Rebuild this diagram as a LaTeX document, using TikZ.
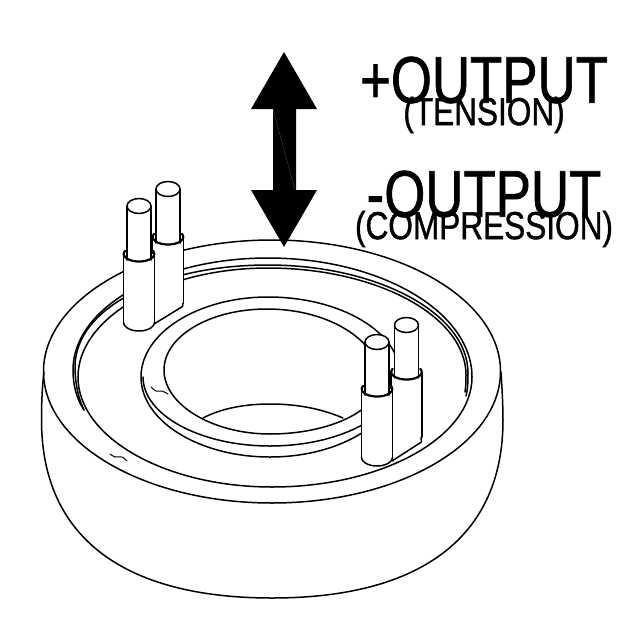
\documentclass[tikz,border=0pt]{standalone}
\usepackage{graphicx}
\usepackage{fontspec}
\setmainfont{Liberation Sans}
\newfontfamily\heavy[FakeBold=1.2]{Liberation Sans}
\tikzset{
  ln/.style={draw=black,line width=1.5pt,line cap=round,line join=round},
  thk/.style={draw=black,line width=2.2pt,line cap=round},
  thin ln/.style={ln,line width=1pt},
  lab/.style={inner sep=0pt,anchor=center,text=black},
}
% quarter-ellipse segments: start vertical, end horizontal / start horizontal, end vertical
\newcommand{\vh}[4]{.. controls (#1,{#2+.55*(#4-#2)}) and ({#3-.55*(#3-#1)},#4) .. (#3,#4)}
\newcommand{\hv}[4]{.. controls ({#1+.55*(#3-#1)},#2) and (#3,{#4-.55*(#4-#2)}) .. (#3,#4)}
% cx collarY topY sideEndY
\newcommand{\pinbody}[4]{%
  \fill[white] (#1-15.5,#2) rectangle (#1+15.5,#4);
  \fill[white] (#1-12,#3) rectangle (#1+12,#2);
  \draw[ln] (#1-15.5,#2) -- (#1-15.5,#4);
  \draw[ln] (#1+15.5,#2) -- (#1+15.5,#4);
  \draw[thk,shift={(#1,#2)},domain=-25:205,samples=40,variable=\t] plot ({15.2*cos(\t)},{7.5*sin(\t)});
  \draw[ln] (#1-12,#3) -- (#1-12,#2+6);
  \draw[ln] (#1+12,#3) -- (#1+12,#2+6);
  \draw[ln,fill=white] (#1,#3) ellipse[x radius=12,y radius=7.5];
}
\newcommand{\pinfoot}[2]{% cx sideEndY
  \fill[white,shift={(#1,#2)}] (0,0) ellipse[x radius=15.5,y radius=9];
  \draw[ln,shift={(#1,#2)},domain=0:180,samples=40,variable=\t] plot ({15.5*cos(\t)},{9*sin(\t)});
}
\begin{document}
\begin{tikzpicture}[x=1pt,y=-1pt]
\useasboundingbox (0,0) rectangle (638,638);
\fill[white] (0,0) rectangle (638,638);
% body
\draw[ln] (44,372) .. controls (42,388) and (41.5,405) .. (41.5,420)
  .. controls (41.5,536) and (122,598) .. (272,598)
  .. controls (422,598) and (503,536) .. (503,420)
  .. controls (503,405) and (502,388) .. (501,372);
% top outer
\draw[ln] (272,371.5) ellipse[x radius=228.5,y radius=131.5];
% groove
\draw[ln] (78,377) \vh{78}{377}{272}{487} \hv{272}{487}{472}{377};
\draw[ln] (84,410) .. controls (76,398) and (73,384) .. (73,370) .. controls (73,308) and (160,258) .. (268,258) \hv{268}{258}{472}{377};
\draw[ln] (84,410) .. controls (78,398) and (75,382) .. (75,367) .. controls (75,307) and (162,265) .. (268,265) \hv{268}{265}{468}{373} .. controls (468,380) and (468,388) .. (466,396);
\draw[ln] (78,377) .. controls (78,317) and (165,268) .. (268,268) \hv{268}{268}{466}{375} .. controls (466,380) and (466,386) .. (465,392);
% ring
\draw[ln] (141,377) .. controls (141,333) and (198,297) .. (268,297) \hv{268}{297}{400}{375} .. controls (400,420) and (342,457) .. (270,457) .. controls (199,457) and (141,421) .. (141,377) -- cycle;
\draw[ln] (143,377) \vh{143}{377}{270}{446} \hv{270}{446}{400}{375};
% hole
\draw[ln] (164,370) .. controls (164,336) and (210,309) .. (267,309) \hv{267}{309}{380}{380} .. controls (380,410) and (330,434) .. (270,434) .. controls (213,434) and (164,405) .. (164,370) -- cycle;
% lip
\draw[ln] (203,418) .. controls (222,408) and (246,404) .. (270,404) .. controls (298,404) and (322,409) .. (343,418);
% squiggles
\draw[thin ln] plot[smooth] coordinates {(110,454) (115,457) (122,457) (127,461)};
\draw[thin ln] plot[smooth] coordinates {(151,387) (156,391) (162,391) (168,394)};
% back-left pins
\fill[white] (168,300) -- (183,300) -- (183,306) -- (154,324) -- (154,300) -- cycle;
\draw[ln] (183,303) -- (182.5,306.5) -- (154,324);
\pinbody{168}{237}{189}{303}
\pinfoot{139}{322}
\pinbody{139}{254}{206}{322}
% right pins
\fill[white] (405,430) -- (421,430) -- (421.5,441) -- (392,461) -- (392,430) -- cycle;
\draw[ln] (421,437) -- (421.5,442) -- (392,461);
\pinbody{406.5}{372}{325}{437}
\pinfoot{377}{457}
\pinbody{377}{389}{342}{457}
% arrow
\fill[black] (284,52) -- (317,109) -- (296,109) -- (296,190) -- (317,190) -- (284,247) -- (251,190) -- (273,190) -- (273,109) -- (251,109) -- cycle;
\draw[gray!70!black,line width=.3pt] (273,109) -- (295,190);
% text
\node[lab] (t1) at (484,80) {\scalebox{.80}[1]{\heavy\fontsize{66}{66}\selectfont +OUTPUT}};
\node[lab] (t2) at (484,115) {\scalebox{.81}[1]{\heavy\fontsize{39}{39}\selectfont (TENSION)}};
\node[lab] (t3) at (484,194) {\scalebox{.80}[1]{\heavy\fontsize{66}{66}\selectfont -OUTPUT}};
\node[lab] (t4) at (484,229) {\scalebox{.81}[1]{\heavy\fontsize{39}{39}\selectfont (COMPRESSION)}};
\end{tikzpicture}
\end{document}
